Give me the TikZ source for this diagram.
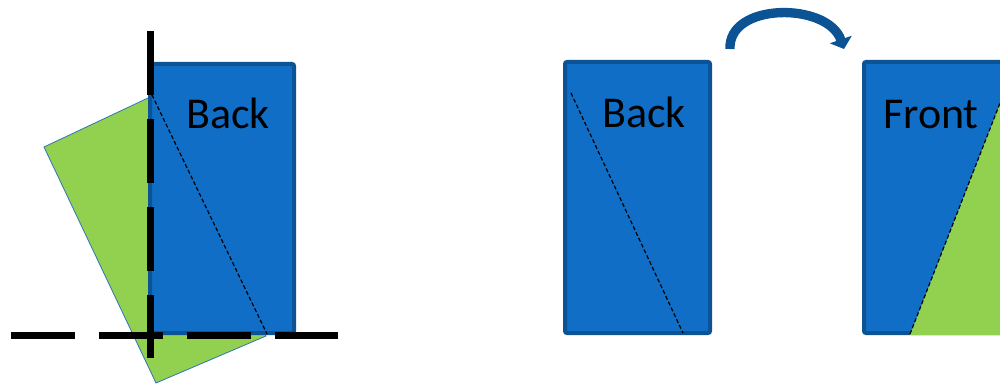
\documentclass[tikz,border=0pt]{standalone}
\usepackage{fontspec}
\setmainfont{Carlito}
\usetikzlibrary{arrows.meta}
\definecolor{fillblue}{HTML}{106EC6}
\definecolor{edgeblue}{HTML}{0B5394}
\definecolor{leafgreen}{HTML}{92D050}
\definecolor{thinblue}{HTML}{2E75B6}
\tikzset{
  panel/.style={fill=fillblue, draw=edgeblue, line width=3pt, rounded corners=1.5pt},
  leaf/.style={fill=leafgreen, draw=thinblue, line width=0.6pt},
  fold/.style={draw=black, line width=0.9pt, dash pattern=on 3pt off 1.8pt},
  axis/.style={draw=black, line width=5.25pt, dash pattern=on 48pt off 18pt},
  lbl/.style={font=\fontsize{33}{36}\selectfont, text=black, inner sep=0pt},
  turn/.style={draw=edgeblue, line width=7pt, -{Triangle[length=7.5pt,width=17pt]}}
}
\begin{document}
\begin{tikzpicture}[x=0.75pt,y=-0.75pt]
\clip (0,0) rectangle (1000,385);
% left panel
\fill[leaf] (148,98) -- (44,147) -- (156,383) -- (266,336) -- cycle;
\draw[panel] (150,64) rectangle (294,333);
\draw[fold] (152,95) -- (267,334);
\node[lbl] (backL) at (228,113) {Back};
\coordinate (vT) at (150,31);
\coordinate (vB) at (150,358);
\coordinate (hL) at (11,335);
\coordinate (hR) at (338,335);
\draw[axis] (vT) -- (vB);
\draw[axis] (hL) -- (hR);
% middle panel
\draw[panel] (565,62) rectangle (710,333);
\draw[fold] (571,93) -- (683,333);
\node[lbl] (backM) at (644,112) {Back};
% right panel
\draw[panel] (864,62) rectangle (1012,333);
\fill[leafgreen] (910,335) -- (1017,60) -- (1020,60) -- (1020,335) -- cycle;
\draw[fold] (910,334) -- (1016,62);
\node[lbl] (front) at (931,115) {Front};
% turn-over arrow
\coordinate (arrS) at (730,49);
\coordinate (arrE) at (844,49);
\draw[turn] (arrS) .. controls (728,2) and (828,2) .. (arrE);
\end{tikzpicture}
\end{document}
